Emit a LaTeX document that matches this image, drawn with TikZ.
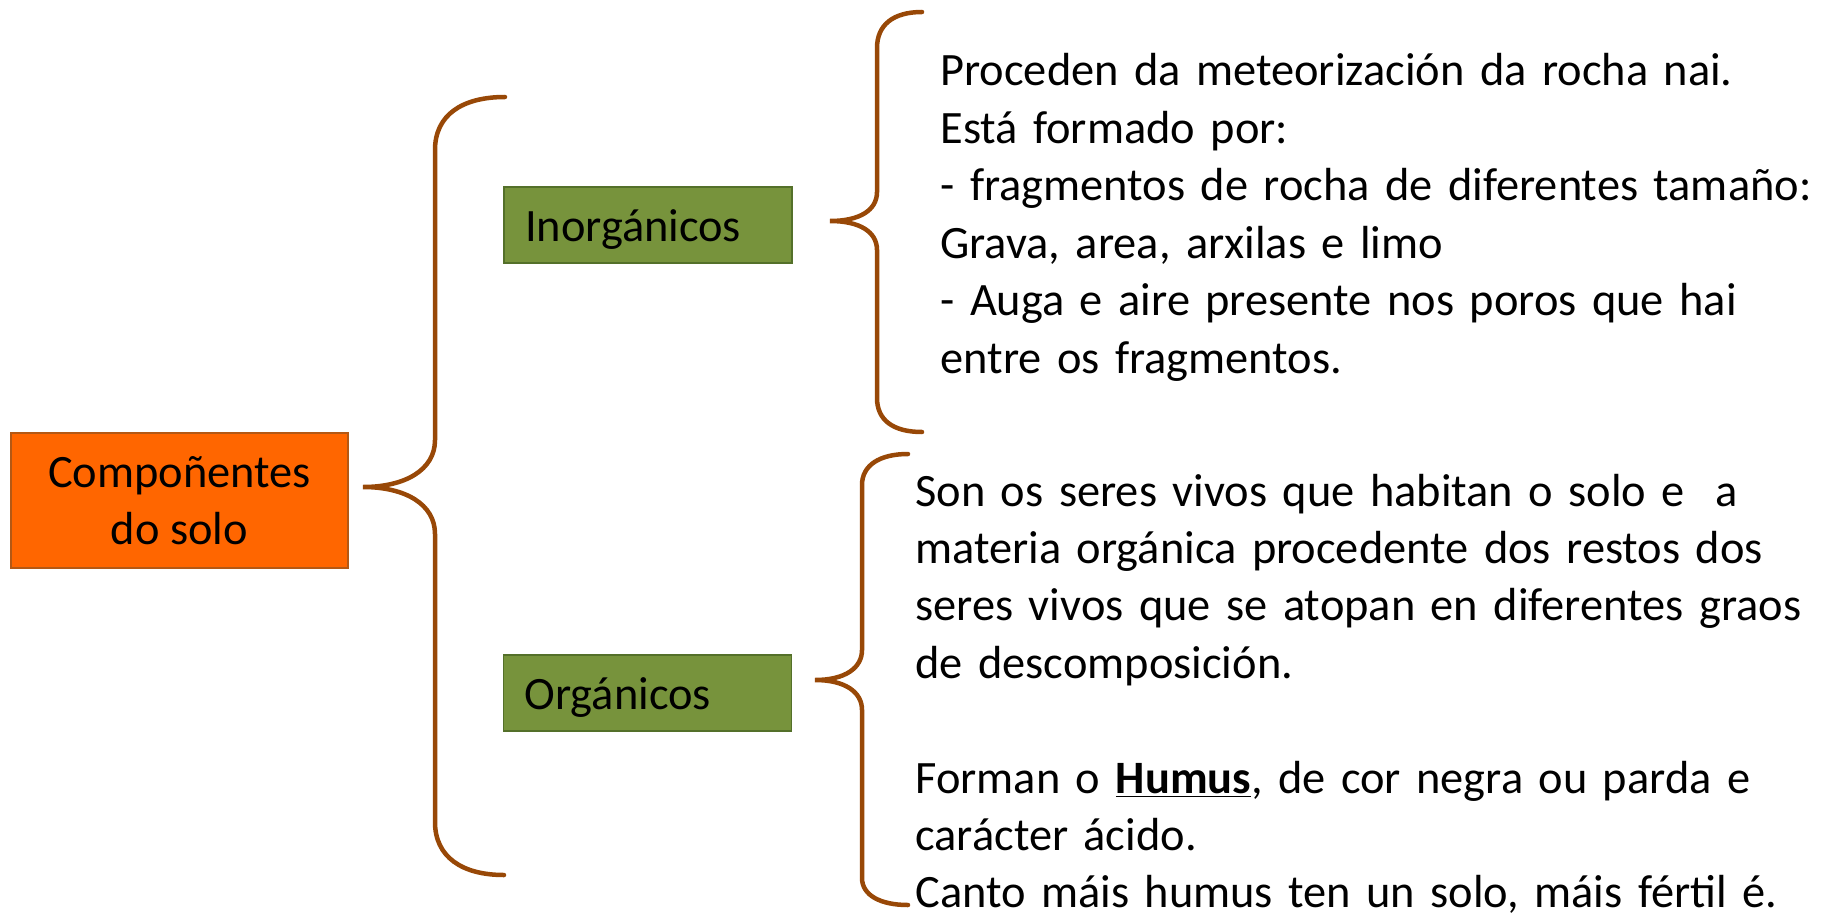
\documentclass[tikz,border=0pt]{standalone}
\usepackage{fontspec}
\setmainfont{Carlito}
\usepackage{tikz}

\definecolor{laranxa}{RGB}{255,102,0}
\definecolor{bordolaranxa}{RGB}{180,88,20}
\definecolor{verde}{RGB}{119,147,60}
\definecolor{bordoverde}{RGB}{84,112,42}
\definecolor{marron}{RGB}{152,72,7}

\begin{document}
\begin{tikzpicture}[x=0.5pt,y=-0.5pt,
  every node/.style={font=\fontsize{23.2}{28.7}\selectfont},
  main node/.style={rectangle,fill=laranxa,draw=bordolaranxa,line width=0.8pt,
    minimum width=168.5pt,minimum height=67.5pt,align=center,inner sep=0pt},
  class node/.style={rectangle,fill=verde,draw=bordoverde,line width=0.6pt,
    minimum height=38pt,text width=123pt,text height=18pt,text depth=2pt,
    inner xsep=10.5pt,inner ysep=0pt,align=left},
  text node/.style={anchor=base west,inner sep=0pt,text width=440pt,align=left},
  brace/.style={draw=marron,line width=2.25pt,line cap=round}]

  \useasboundingbox (0,0) rectangle (1824,915);

  \node[main node] (solo) at (179.5,500.5) {Compoñentes\\do solo};
  \node[class node] (inorg) at (648,225) {Inorgánicos};
  \node[class node] (org) at (647.5,693) {Orgánicos};

  \node[text node] (inorgtext) at (940,86) {Proceden da meteorización da rocha nai.\\
    Está formado por:\\
    - fragmentos de rocha de diferentes tamaño:\\
    Grava, area, arxilas e limo\\
    - Auga e aire presente nos poros que hai\\
    entre os fragmentos.};
  \node[text node,text width=452pt] (orgtext) at (915,506) {Son os seres vivos que habitan o solo e \ a\\
    materia orgánica procedente dos restos dos\\
    seres vivos que se atopan en diferentes graos\\
    de descomposición.\\[28.7pt]
    Forman o \underline{\textbf{Humus}}, de cor negra ou parda e\\
    carácter ácido.\\
    Canto máis humus ten un solo, máis fértil é.};

  % chaves
  \path[brace] (505,97) .. controls (462,97) and (435,115) .. (435,150) -- (435,440)
    .. controls (435,470) and (405,487) .. (363,487)
    .. controls (405,487) and (435,504) .. (435,534) -- (435,822)
    .. controls (435,857) and (462,875) .. (504,875);
  \path[brace] (922,12) .. controls (893,12) and (877,25) .. (877,48) -- (877,192)
    .. controls (877,210) and (860,221) .. (830,221)
    .. controls (860,221) and (877,232) .. (877,250) -- (877,398)
    .. controls (877,420) and (893,432) .. (922,432);
  \path[brace] (908,454) .. controls (880,454) and (862,465) .. (862,485) -- (862,650)
    .. controls (862,668) and (845,680) .. (815,680)
    .. controls (845,680) and (862,692) .. (862,710) -- (862,878)
    .. controls (862,895) and (880,905) .. (908,905);
\end{tikzpicture}
\end{document}
